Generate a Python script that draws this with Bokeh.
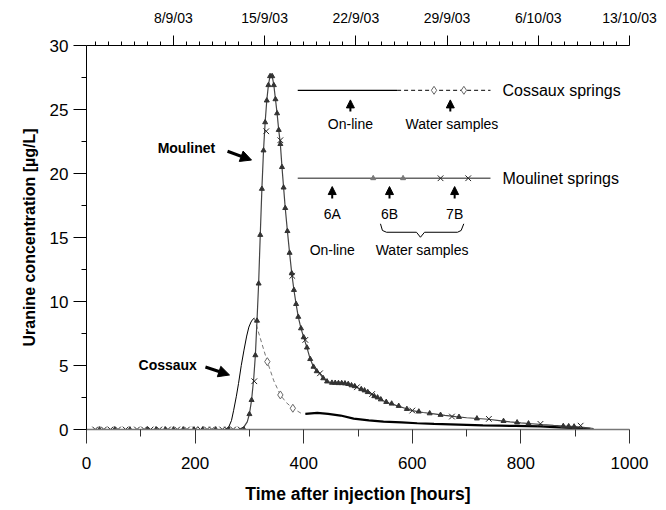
from bokeh.plotting import figure
from bokeh.models import LinearAxis, FixedTicker, Range1d, Arrow, NormalHead, Grid
from bokeh.embed import file_html
from bokeh.resources import INLINE
from bokeh.core.properties import value

FONT = "Liberation Sans"

# ---------------- data ----------------
# Moulinet springs, on-line fluorometer (6A)
moulinet_h = [0, 280, 290, 296, 300, 304, 308, 311, 314, 317, 320, 323, 326, 329, 332, 335, 338, 340,
              342, 345, 348, 351, 354, 357, 360, 363, 366, 370, 374, 378, 382, 386, 390, 395, 400, 406,
              412, 418, 424, 430, 436, 443, 452, 463, 474, 486, 498, 510, 522, 534, 546, 558, 570, 585,
              600, 620, 640, 660, 680, 700, 720, 740, 760, 780, 800, 820, 840, 860, 880, 900, 915, 934]
moulinet_c = [0, 0, 0.2, 0.6, 1.2, 2.3, 4.0, 5.8, 8.5, 11.4, 15.2, 18.8, 21.8, 24.0, 25.7, 26.9, 27.6, 27.8,
              27.6, 26.9, 25.8, 24.7, 23.4, 22.3, 20.5, 18.9, 17.3, 15.5, 13.8, 12.2, 10.9, 9.8, 8.8, 7.9, 7.2, 6.4,
              5.5, 4.9, 4.55, 4.35, 4.0, 3.75, 3.65, 3.62, 3.6, 3.45, 3.3, 3.05, 2.8, 2.5, 2.25, 2.05, 1.88, 1.68,
              1.48, 1.33, 1.22, 1.1, 1.0, 0.92, 0.86, 0.8, 0.7, 0.6, 0.52, 0.45, 0.38, 0.32, 0.27, 0.22, 0.17, 0.08]

# Moulinet water samples 6B (triangles)
m6b_h = [24, 52, 80, 112, 128, 145, 160, 178, 198, 214, 238, 262, 290,
         300, 304, 311, 314, 317, 320, 323, 326, 329, 332, 335, 338, 342, 345, 348, 351, 354, 357,
         360, 363, 366, 370, 374, 378, 382, 386, 390, 395, 400, 406, 412, 418, 424, 436, 443,
         452, 458, 464, 470, 476, 482, 488, 494, 506, 512, 518, 530, 536, 542, 552, 562, 575, 590,
         612, 632, 652, 686, 719, 768, 793, 814, 878, 888, 898]
m6b_c = [0, 0, 0, 0, 0, 0, 0, 0, 0, 0, 0, 0, 0,
         1.2, 2.3, 5.8, 8.5, 11.4, 15.2, 18.8, 21.8, 24.0, 25.7, 26.9, 27.6, 27.6, 26.9, 25.8, 24.7, 23.4, 22.3,
         20.5, 18.9, 17.3, 15.5, 13.8, 12.2, 10.9, 9.8, 8.8, 7.9, 7.2, 6.4, 5.5, 4.9, 4.55, 4.0, 3.75,
         3.65, 3.64, 3.62, 3.62, 3.6, 3.55, 3.45, 3.38, 3.15, 3.05, 2.92, 2.6, 2.5, 2.35, 2.15, 2.02, 1.84, 1.6,
         1.4, 1.26, 1.14, 0.98, 0.86, 0.66, 0.55, 0.47, 0.27, 0.25, 0.23]

# Moulinet water samples 7B (crosses)
m7b_h = [16, 32, 44, 58, 72, 93, 106, 118, 134, 150, 167, 185, 200, 210, 222, 231, 250, 259, 270, 284,
         309, 331, 357, 379, 403, 430, 498, 526, 600, 673, 741, 836, 910]
m7b_c = [0, 0, 0, 0, 0, 0, 0, 0, 0, 0, 0, 0, 0, 0, 0, 0, 0, 0, 0, 0,
         3.77, 23.3, 22.6, 12.0, 7.0, 4.39, 3.3, 2.77, 1.48, 1.01, 0.83, 0.44, 0.3]

# Cossaux springs, on-line (first part)
cossaux1_h = [0, 255, 262, 267, 271, 276, 280, 285, 290, 295, 299, 303, 306, 309]
cossaux1_c = [0, 0, 0.2, 0.7, 1.5, 2.6, 3.6, 5.0, 6.2, 7.3, 8.0, 8.4, 8.6, 8.7]

# Cossaux springs, water samples (dashed line + diamonds)
cossaux_ws_line_h = [309, 316, 333, 345, 357, 368, 380, 397]
cossaux_ws_line_c = [8.7, 7.7, 5.3, 3.8, 2.7, 2.1, 1.66, 1.22]
cossaux_ws_h = [333, 357, 380]
cossaux_ws_c = [5.3, 2.7, 1.66]

# Cossaux springs, on-line (second part)
cossaux2_h = [403, 425, 445, 468, 492, 520, 547, 580, 609, 640, 670, 700, 730, 760, 790, 836, 880, 928]
cossaux2_c = [1.22, 1.3, 1.22, 1.09, 0.85, 0.72, 0.62, 0.55, 0.49, 0.44, 0.4, 0.36, 0.32, 0.3, 0.28, 0.24, 0.15, 0.05]

# axes
x_ticks = [0, 200, 400, 600, 800, 1000]
x_minor = [100, 300, 500, 700, 900]
y_ticks = [0, 5, 10, 15, 20, 25, 30]
y_minor = [2.5, 7.5, 12.5, 17.5, 22.5, 27.5]
date_hours = [160, 328, 496, 664, 832, 1000]
date_labels = ["8/9/03", "15/9/03", "22/9/03", "29/9/03", "6/10/03", "13/10/03"]
day_hours = [h for h in range(16, 1001, 24) if h not in date_hours]

# ---------------- figure ----------------
p = figure(width=660, height=508, x_range=Range1d(0, 1000), y_range=Range1d(0, 30),
           output_backend="svg", toolbar_location=None,
           x_axis_location=None, y_axis_location=None,
           min_border_left=86, min_border_right=31, min_border_top=45, min_border_bottom=79)
p.outline_line_color = None
p.center = [c for c in p.center if not isinstance(c, Grid)]

def style(ax, size="16px", tsize="16px"):
    ax.major_label_text_font = FONT
    ax.major_label_text_font_size = size
    ax.major_label_text_color = "black"
    ax.axis_label_text_font = FONT
    ax.axis_label_text_font_style = "bold"
    ax.axis_label_text_font_size = tsize
    ax.axis_label_text_color = "black"
    ax.major_tick_in = 0
    ax.minor_tick_in = 0
    ax.axis_line_color = "black"
    ax.major_tick_line_color = "black"
    ax.minor_tick_line_color = "black"

yax = LinearAxis(ticker=FixedTicker(ticks=y_ticks, minor_ticks=y_minor),
                 axis_label="Uranine concentration [µg/L]")
style(yax, "17px", "16px")
yax.major_tick_out = 13
yax.minor_tick_out = 5
yax.major_label_standoff = 5
yax.axis_label_standoff = 9
p.add_layout(yax, "left")

xax = LinearAxis(ticker=FixedTicker(ticks=x_ticks, minor_ticks=x_minor),
                 axis_label="Time after injection [hours]")
style(xax, "17px", "17.5px")
xax.major_tick_out = 14
xax.minor_tick_out = 7
xax.major_label_standoff = 13
xax.axis_label_standoff = 12
xax.axis_line_color = "#777777"
xax.axis_line_width = 1.5
xax.major_tick_line_color = "#333333"
xax.minor_tick_line_color = "#333333"
p.add_layout(xax, "below")

tax = LinearAxis(ticker=FixedTicker(ticks=date_hours, minor_ticks=day_hours),
                 major_label_overrides={h: l for h, l in zip(date_hours, date_labels)})
style(tax, "14px")
tax.major_tick_out = 10
tax.minor_tick_out = 4
tax.major_label_standoff = 10
p.add_layout(tax, "above")

# ---------------- data glyphs ----------------
p.line(cossaux1_h, cossaux1_c, line_color="black", line_width=1)
p.line(cossaux_ws_line_h, cossaux_ws_line_c, line_color="#777777", line_width=1, line_dash="4 3")
p.scatter(cossaux_ws_h, cossaux_ws_c, marker="diamond", size=8, fill_color="white",
          line_color="#666666", line_width=1)
p.line(cossaux2_h, cossaux2_c, line_color="black", line_width=2.2)

p.line(moulinet_h, moulinet_c, line_color="#444444", line_width=1.2)
p.scatter(m6b_h, m6b_c, marker="triangle", size=5, fill_color="#333333", line_color="#333333")
p.scatter(m7b_h, m7b_c, marker="x", size=8, line_color="#222222", line_width=1)

# ---------------- legend artwork ----------------
# Cossaux springs
p.line([389, 572], [26.5, 26.5], line_color="black", line_width=1.3)
p.line([572, 744], [26.5, 26.5], line_color="black", line_width=1, line_dash="4 3")
p.scatter([640, 695], [26.5, 26.5], marker="diamond", size=8, fill_color="white",
          line_color="#666666")
# Moulinet springs
p.line([389, 744], [19.63, 19.63], line_color="#666666", line_width=1.3)
p.scatter([528, 583], [19.63, 19.63], marker="triangle", size=5, fill_color="#777777", line_color="#777777")
p.scatter([652, 703], [19.63, 19.63], marker="x", size=8, line_color="#222222")

for hx, y0, y1 in [(486, 24.85, 25.75), (670, 24.85, 25.75),
                   (452.5, 18.05, 18.98), (558, 18.05, 18.98), (678, 18.05, 18.98)]:
    p.add_layout(Arrow(end=NormalHead(size=8, fill_color="black", line_color="black"),
                       x_start=hx, y_start=y0, x_end=hx, y_end=y1, line_width=2))

# brace
p.line([541.4, 545, 552.5, 607.7, 615, 622.5, 683.2, 690, 694.8],
       [16.07, 15.55, 15.41, 15.41, 15.02, 15.41, 15.41, 15.55, 16.07],
       line_color="black", line_width=1)

p.text(x=[766, 766], y=[26.5, 19.63], text=["Cossaux springs", "Moulinet springs"],
       text_font=value(FONT), text_font_size="16px", text_baseline="middle", text_align="left",
       text_color="black")
p.text(x=[486, 673, 452.5, 558, 678, 452.5, 618],
       y=[23.9, 23.9, 16.8, 16.8, 16.8, 14.0, 14.0],
       text=["On-line", "Water samples", "6A", "6B", "7B", "On-line", "Water samples"],
       text_font=value(FONT), text_font_size="14px", text_baseline="middle", text_align="center",
       text_color="black")

# curve labels
p.text(x=[131, 95.8], y=[21.97, 5.05], text=["Moulinet", "Cossaux"],
       text_font=value(FONT), text_font_size="14px", text_font_style="bold",
       text_baseline="middle", text_align="left", text_color="black")
p.add_layout(Arrow(end=NormalHead(size=11, fill_color="black", line_color="black"),
                   x_start=259.7, y_start=21.74, x_end=303.9, y_end=21.05, line_width=3))
p.add_layout(Arrow(end=NormalHead(size=11, fill_color="black", line_color="black"),
                   x_start=219, y_start=4.88, x_end=263.4, y_end=4.26, line_width=3))

open("out.html", "w").write(file_html(p, INLINE))
